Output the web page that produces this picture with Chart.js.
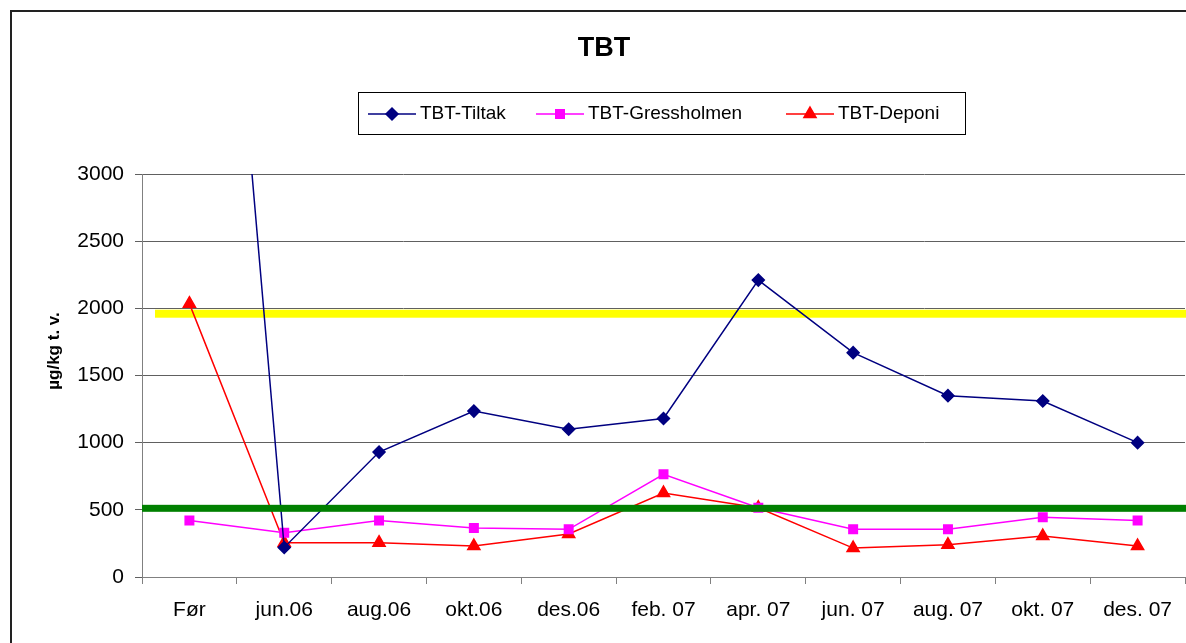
<!DOCTYPE html>
<html>
<head>
<meta charset="utf-8">
<script src="https://cdn.jsdelivr.net/npm/chart.js@4.4.1/dist/chart.umd.min.js"></script>
<style>
  html, body { margin: 0; padding: 0; background: #fff; }
  #wrap { width: 1186px; height: 643px; }
</style>
</head>
<body>
<div id="wrap"><canvas id="tbtChart" width="1186" height="643"></canvas></div>
<script>
// Kategorier og måleverdier (µg/kg t. v.)
const categories = ['Før', 'jun.06', 'aug.06', 'okt.06', 'des.06', 'feb. 07', 'apr. 07', 'jun. 07', 'aug. 07', 'okt. 07', 'des. 07'];
const tiltak      = [8400, 220, 930, 1235, 1100, 1180, 2210, 1670, 1350, 1310, 1000];
const gressholmen = [420, 330, 420, 365, 355, 765, 515, 355, 355, 445, 420];
const deponi      = [2035, 255, 255, 230, 320, 625, 515, 215, 240, 305, 230];
const yTicks = [0, 500, 1000, 1500, 2000, 2500, 3000];
// Grenseverdier (gul og grønn linje)
const upperLimit = 1960;
const lowerLimit = 515;

const FONT = "'Liberation Sans', Arial, sans-serif";

// Ramme, tittel, legende og grenselinjer tegnes her
const decorations = {
    id: 'decorations',
    beforeDatasetsDraw(chart) {
        const { ctx } = chart;
        const y = chart.scales.y;
        ctx.save();
        ctx.fillStyle = '#FFFF00';
        const yy = y.getPixelForValue(upperLimit);
        ctx.fillRect(155, yy - 4, 1186 - 155, 8);
        ctx.restore();
    },
    afterDatasetsDraw(chart) {
        const { ctx } = chart;
        const y = chart.scales.y;
        ctx.save();
        ctx.fillStyle = '#008000';
        const yg = y.getPixelForValue(lowerLimit);
        ctx.fillRect(chart.chartArea.left, yg - 3, 1186 - chart.chartArea.left, 7);
        ctx.restore();
    },
    afterDraw(chart) {
        const { ctx } = chart;
        ctx.save();
        // ytre ramme
        ctx.strokeStyle = '#222';
        ctx.lineWidth = 2;
        ctx.strokeRect(11, 11, 1300, 800);

        // tittel
        ctx.fillStyle = '#000';
        ctx.font = 'bold 27px ' + FONT;
        ctx.textAlign = 'center';
        ctx.textBaseline = 'middle';
        ctx.fillText('TBT', 604, 49);

        // y-aksetittel
        ctx.save();
        ctx.translate(54, 351);
        ctx.rotate(-Math.PI / 2);
        ctx.font = 'bold 17px ' + FONT;
        ctx.fillText('µg/kg t. v.', 0, 0);
        ctx.restore();

        // legende med ramme
        ctx.lineWidth = 1;
        ctx.strokeStyle = '#000';
        ctx.strokeRect(358.5, 92.5, 607, 42);
        const items = [
            { x: 368, ds: chart.data.datasets[0] },
            { x: 536, ds: chart.data.datasets[1] },
            { x: 786, ds: chart.data.datasets[2] }
        ];
        ctx.font = '19px ' + FONT;
        ctx.textAlign = 'left';
        items.forEach(it => {
            const cy = 114;
            ctx.strokeStyle = it.ds.borderColor;
            ctx.fillStyle = it.ds.borderColor;
            ctx.lineWidth = 1.5;
            ctx.beginPath();
            ctx.moveTo(it.x, cy);
            ctx.lineTo(it.x + 48, cy);
            ctx.stroke();
            Chart.helpers.drawPoint(ctx, {
                pointStyle: it.ds.pointStyle,
                radius: it.ds.pointRadius,
                borderWidth: 1
            }, it.x + 24, cy);
            ctx.fillStyle = '#000';
            ctx.fillText(it.ds.label, it.x + 52, cy);
        });
        ctx.restore();
    }
};

function series(label, data, color, style, radius) {
    return {
        label: label,
        data: data,
        borderColor: color,
        backgroundColor: color,
        pointBackgroundColor: color,
        pointBorderColor: color,
        pointStyle: style,
        pointRadius: radius,
        pointHoverRadius: radius,
        borderWidth: 1.5,
        tension: 0
    };
}

new Chart(document.getElementById('tbtChart'), {
    type: 'line',
    data: {
        labels: categories,
        datasets: [
            series('TBT-Tiltak', tiltak, '#000080', 'rectRot', 6),
            series('TBT-Gressholmen', gressholmen, '#FF00FF', 'rect', 6),
            series('TBT-Deponi', deponi, '#FF0000', 'triangle', 7)
        ]
    },
    options: {
        responsive: false,
        animation: false,
        layout: {
            autoPadding: false,
            padding: { left: 12, top: 174, right: 1, bottom: 0 }
        },
        plugins: {
            legend: { display: false },
            title: { display: false },
            tooltip: { enabled: false }
        },
        scales: {
            x: {
                offset: true,
                grid: {
                    offset: true,
                    drawOnChartArea: false,
                    color: '#808080',
                    tickLength: 7
                },
                border: { color: '#808080', width: 1 },
                ticks: {
                    color: '#000',
                    font: { family: FONT, size: 21 },
                    padding: 14,
                    maxRotation: 0,
                    autoSkip: false
                },
                afterFit(s) {
                    s.height = 66;
                    s.paddingLeft = 0;
                    s.paddingRight = 0;
                }
            },
            y: {
                min: 0,
                max: 3000,
                afterBuildTicks(s) { s.ticks = yTicks.map(v => ({ value: v })); },
                grid: { color: '#606060', tickLength: 7 },
                border: { color: '#808080', width: 1 },
                ticks: {
                    color: '#000',
                    font: { family: FONT, size: 21 },
                    padding: 11,
                    callback: v => String(v)
                },
                afterFit(s) { s.width = 130; }
            }
        }
    },
    plugins: [decorations]
});
</script>
</body>
</html>
